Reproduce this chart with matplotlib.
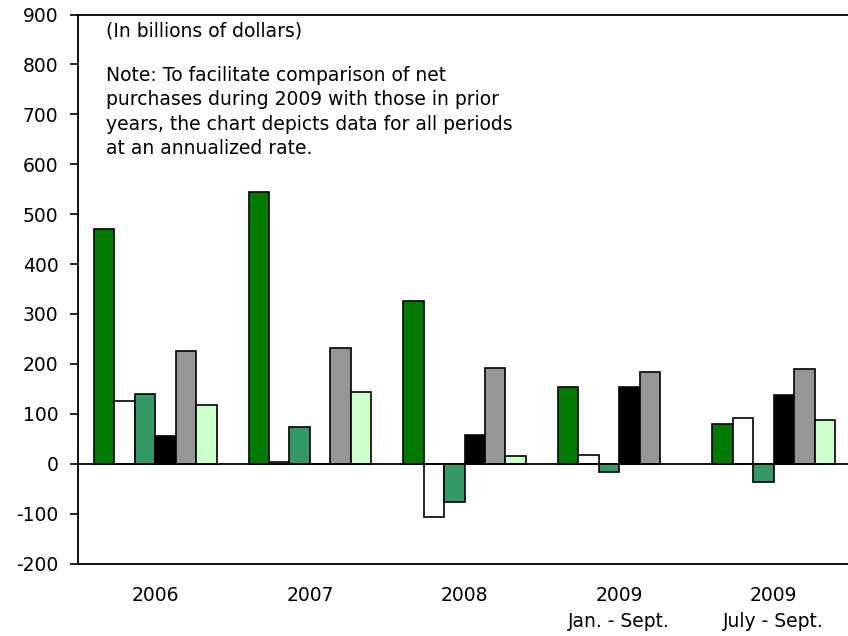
import matplotlib
matplotlib.use("Agg")
import matplotlib.pyplot as plt
import numpy as np

plt.rcParams['font.family'] = ['DejaVu Sans']

periods = ["2006", "2007", "2008", "2009\nJan. - Sept.", "2009\nJuly - Sept."]

# Net purchases by category, billions of dollars at an annualized rate
series_a = [470, 545, 326, 153, 80]
series_b = [125, 4, -107, 17, 91]
series_c = [139, 73, -76, -17, -37]
series_d = [56, 0, 57, 153, 137]
series_e = [225, 232, 191, 184, 190]
series_f = [118, 143, 15, np.nan, 87]

series = [series_a, series_b, series_c, series_d, series_e, series_f]
colors = ["#007A00", "#FFFFFF", "#339966", "#000000", "#969696", "#CCFFCC"]

yticks = [-200, -100, 0, 100, 200, 300, 400, 500, 600, 700, 800, 900]

W, H = 848, 636
fig = plt.figure(figsize=(W / 100, H / 100), dpi=100)
left, right, top, bottom = 78, 851, 14.5, 563.5
ax = fig.add_axes([left / W, 1 - bottom / H, (right - left) / W, (bottom - top) / H])

x = np.arange(len(periods))
bw = 0.132
for i, (vals, c) in enumerate(zip(series, colors)):
    offs = (i - 2.5) * bw
    ax.bar(x + offs, vals, width=bw, color=c, edgecolor="black", linewidth=1.2, zorder=2)

ax.axhline(0, color="black", linewidth=1.3, zorder=3)

ax.set_xlim(-0.5, len(periods) - 0.5)
ax.set_ylim(-200, 900)
ax.set_yticks(yticks)
ax.set_yticklabels([str(t) for t in yticks])
ax.set_xticks(x)
ax.set_xticklabels(periods, linespacing=1.5)

ax.tick_params(axis="y", direction="out", length=6, width=1.2, labelsize=13.5, pad=8)
ax.tick_params(axis="x", length=0, labelsize=13.5, pad=16)

for s in ["left", "bottom", "top"]:
    ax.spines[s].set_linewidth(1.3)
ax.spines["right"].set_visible(False)

fig.text(106 / W, 1 - 31 / H, "(In billions of dollars)", fontsize=13.5,
         va="center", ha="left")
note = ("Note: To facilitate comparison of net\n"
        "purchases during 2009 with those in prior\n"
        "years, the chart depicts data for all periods\n"
        "at an annualized rate.")
fig.text(106 / W, 1 - 66 / H, note, fontsize=13.5, va="top", ha="left", linespacing=1.36)

fig.savefig("out.png", dpi=100)
